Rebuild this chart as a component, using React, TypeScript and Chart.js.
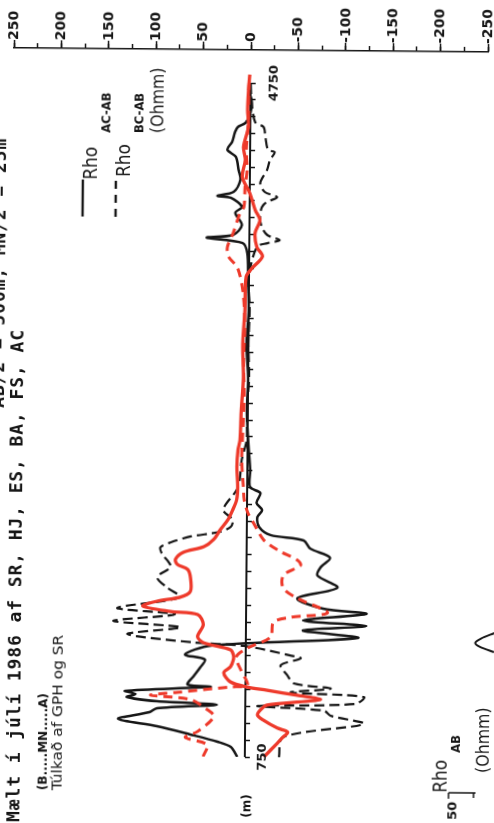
import React, { useEffect, useRef } from 'react';
import { Chart, registerables } from 'chart.js';

Chart.register(...registerables);

// ---- axis definitions ----
const DIST_MIN = 750;
const DIST_MAX = 4750;
const DIST_STEP = 100;
const RHO_MIN = -250;
const RHO_MAX = 250;
const RHO_LABEL_STEP = 50;
const RHO_MINOR_STEP = 25;

// ---- series: [distance (m), Rho (Ohmm)] ----
const rhoAcAb: [number, number][] = [
  [750, 8], [809, 15], [839, 29], [881, 58], [928, 93], [970, 134], [1011, 101], [1035, 93],
  [1059, 30], [1076, 93], [1100, 125], [1118, 116], [1136, 127], [1165, 37], [1177, 61],
  [1225, 55], [1278, 48], [1326, 43], [1355, 64], [1409, 37], [1462, -118], [1504, -60],
  [1533, -127], [1563, -60], [1605, -127], [1634, -81], [1694, -54], [1759, -96], [1830, -75],
  [1878, -78], [1937, -88], [1990, -67], [2038, -60], [2068, -25], [2115, -13], [2174, -11],
  [2216, -16], [2258, -10], [2317, -14], [2352, -3], [2453, -3], [2600, -1], [2800, 1],
  [3000, 0], [3200, 2], [3400, 0], [3600, 1], [3740, 2], [3800, 7], [3830, 45], [3848, 17],
  [3907, 8], [3979, 15], [4014, 8], [4068, 20], [4079, 34], [4103, 17], [4174, 10], [4234, 12],
  [4311, 15], [4353, 24], [4400, 19], [4459, 16], [4489, 13], [4513, 5], [4572, 0], [4649, -1],
  [4709, 2], [4750, 0],
];

const rhoBcAb: [number, number][] = [
  [750, -36], [869, -40], [952, -125], [999, -90], [1029, -83], [1053, -13], [1070, -116],
  [1112, -125], [1136, -48], [1160, -90], [1189, -51], [1237, -44], [1296, -37], [1338, -58],
  [1355, -47], [1409, 2], [1427, 55], [1474, 125], [1516, 69], [1551, 140], [1593, 75],
  [1628, 136], [1694, 70], [1753, 84], [1812, 94], [1872, 80], [1901, 82], [1949, 89],
  [1990, 91], [2020, 80], [2056, 59], [2085, 28], [2115, 17], [2157, 15], [2216, 25],
  [2335, 11], [2394, 8], [2513, 6], [2631, 1], [2800, 1], [3000, -1], [3200, 0], [3400, -1],
  [3600, 0], [3777, -8], [3800, -19], [3818, -32], [3848, -19], [3896, -13], [3955, -11],
  [4014, -13], [4044, -18], [4074, -29], [4103, -16], [4157, -11], [4234, -18], [4293, -21],
  [4341, -26], [4353, -19], [4430, -16], [4489, -14], [4519, -5], [4649, -1], [4750, 0],
];

const rhoRedSolid: [number, number][] = [
  [750, -20], [833, -34], [869, -40], [899, -45], [923, -34], [970, -19], [999, -13],
  [1029, -16], [1059, -23], [1094, -79], [1118, -55], [1147, -23], [1165, -2], [1195, 16],
  [1249, 23], [1284, 16], [1326, 13], [1355, 13], [1385, 16], [1427, 45], [1462, 51],
  [1533, 45], [1593, 51], [1610, 80], [1640, 109], [1670, 94], [1694, 70], [1729, 59],
  [1812, 59], [1860, 62], [1890, 73], [1919, 75], [1961, 67], [1996, 45], [2038, 35],
  [2097, 28], [2157, 20], [2216, 15], [2275, 11], [2352, 10], [2471, 11], [2572, 10],
  [2631, 8], [2800, 7], [3000, 5], [3200, 6], [3400, 4], [3600, 3], [3650, -3], [3721, -14],
  [3777, -8], [3860, -6], [3937, -11], [3996, -6], [4097, 0], [4192, 8], [4293, 5], [4370, 7],
  [4489, 2], [4590, 3], [4727, 2], [4800, 1],
];

const rhoRedDashed: [number, number][] = [
  [750, 44], [821, 40], [863, 63], [899, 50], [988, 33], [1029, 40], [1088, 58], [1112, 100],
  [1130, 72], [1165, 16], [1177, -2], [1266, 5], [1343, 10], [1397, -2], [1462, -26],
  [1551, -29], [1581, -47], [1610, -86], [1694, -54], [1753, -39], [1830, -39], [1890, -57],
  [1919, -54], [1979, -33], [2038, -18], [2139, -7], [2198, -1], [2275, 3], [2352, 4],
  [2513, 6], [2700, 5], [2900, 4], [3100, 5], [3300, 4], [3500, 6], [3650, 12], [3721, 22],
  [3777, 23], [3860, 17], [3979, 10], [4014, 6], [4133, 5], [4234, 3], [4353, 4], [4531, 2],
  [4709, 2], [4798, 1],
];

// profile axis (Rho = 0) and the edge of the neighbouring panel
const profileAxis: [number, number][] = [[DIST_MIN, 0], [DIST_MAX, 0]];
const nextPanelEdge: [number, number][] = [[1385, -262], [1415, -247], [1439, -242], [1465, -248], [1498, -262]];

// ---- layout constants ----
const CW = 510;
const CH = 840;
const AREA_LEFT = 14;
const AREA_RIGHT = 488;
const AREA_TOP = 50;
const AREA_BOTTOM = 757;
const PX_PER_M = 0.1685;
const Y_TOP = DIST_MIN + (AREA_BOTTOM - AREA_TOP) / PX_PER_M;

const RED = '#ee3a2b';
const BLACK = '#161616';

const distTicks: number[] = [];
for (let d = DIST_MIN; d <= DIST_MAX; d += DIST_STEP) distTicks.push(d);

const toXY = (arr: [number, number][]) => arr.map(([d, v]) => ({ x: v, y: d }));

const textPlugin = {
  id: 'rotatedTexts',
  afterDraw(chart: any) {
    const ctx = chart.ctx as CanvasRenderingContext2D;
    const xs = chart.scales.x;
    const ys = chart.scales.y;
    const ax = xs.getPixelForValue(0);

    const rot = (text: string, x: number, y: number, font: string, o: any = {}) => {
      ctx.save();
      ctx.translate(x, y);
      ctx.rotate(-Math.PI / 2);
      ctx.scale(o.sx ?? 1, 1);
      ctx.font = font;
      ctx.fillStyle = o.color ?? BLACK;
      ctx.textAlign = o.align ?? 'left';
      ctx.textBaseline = 'alphabetic';
      (ctx as any).letterSpacing = o.ls ?? '0px';
      ctx.fillText(text, 0, 0);
      ctx.restore();
    };
    const seg = (x1: number, y1: number, x2: number, y2: number, w: number, dash: number[] = []) => {
      ctx.save();
      ctx.strokeStyle = BLACK;
      ctx.lineWidth = w;
      ctx.setLineDash(dash);
      ctx.beginPath();
      ctx.moveTo(x1, y1);
      ctx.lineTo(x2, y2);
      ctx.stroke();
      ctx.restore();
    };

    const mono = '"DejaVu Sans Mono", monospace';
    const sans = '"DejaVu Sans", sans-serif';

    // header lines
    rot('AB/2 = 500m, MN/2 = 25m', 7, 140, `bold 18px ${mono}`, { align: 'right', ls: '0.9px' });
    rot('Mælt í júlí 1986 af SR, HJ, ES, BA, FS, AC', 26, 824, `bold 18px ${mono}`, { ls: '0.9px' });
    rot('(B.....MN.....A)', 53, 792, `bold 12px ${sans}`);
    rot('Túlkað af GPH og SR', 68, 792, `14px ${sans}`, { sx: 1.1 });

    // legend
    seg(84, 218, 84, 181, 2.4);
    rot('Rho', 98, 181, `20px ${sans}`, { sx: 0.85 });
    rot('AC-AB', 111, 134, `bold 13px ${sans}`, { sx: 0.89 });
    seg(117, 218, 117, 178, 2.4, [8, 6]);
    rot('Rho', 131, 178, `20px ${sans}`, { sx: 0.85 });
    rot('BC-AB', 144, 134, `bold 13px ${sans}`, { sx: 0.89 });
    rot('(Ohmm)', 164, 134, `18px ${sans}`, { sx: 0.88 });

    // distance axis labels
    rot('750', ax + 21, ys.getPixelForValue(DIST_MIN), `bold 13px ${sans}`, { align: 'center' });
    rot('4750', ax + 27, ys.getPixelForValue(DIST_MAX), `bold 13px ${sans}`, { align: 'center' });
    rot('(m)', ax + 6, 806, `bold 12px ${sans}`, { align: 'center' });

    // neighbouring panel (cut off)
    rot('Rho', 453, 791, `20px ${sans}`, { sx: 0.85 });
    rot('AB', 466, 751, `bold 13px ${sans}`, { sx: 0.89 });
    rot('(Ohmm)', 495, 771, `18px ${sans}`, { sx: 0.88 });
    rot('50', 463, 818, `bold 13px ${sans}`);
    seg(455, 791, 482, 791, 1.5);
    seg(455, 791, 455, 797, 1.5);
    seg(480, 791, 480, 796, 1.5);
  },
};

export default function App() {
  const ref = useRef<HTMLCanvasElement>(null);

  useEffect(() => {
    if (!ref.current) return;
    const line = (data: [number, number][], color: string, width: number, dash: number[] = [], tension = 0.3) => ({
      data: toXY(data),
      showLine: true,
      borderColor: color,
      backgroundColor: color,
      borderWidth: width,
      borderDash: dash,
      pointRadius: 0,
      tension,
      fill: false,
    });
    const chart = new Chart(ref.current, {
      type: 'scatter',
      data: {
        datasets: [
          { label: 'red solid', ...line(rhoRedSolid, RED, 3.3) },
          { label: 'red dashed', ...line(rhoRedDashed, RED, 3, [9, 6]) },
          { label: 'Rho AC-AB', ...line(rhoAcAb, BLACK, 2.5) },
          { label: 'Rho BC-AB', ...line(rhoBcAb, BLACK, 2.2, [10, 5]) },
          { label: 'axis', ...line(profileAxis, BLACK, 2, [], 0) },
          { label: 'next panel', ...line(nextPanelEdge, BLACK, 2), clip: false },
        ] as any,
      },
      options: {
        responsive: false,
        animation: false,
        events: [],
        layout: {
          padding: { left: AREA_LEFT, right: CW - AREA_RIGHT, top: 0, bottom: CH - AREA_BOTTOM },
        },
        plugins: { legend: { display: false }, tooltip: { enabled: false }, title: { display: false } },
        scales: {
          x: {
            type: 'linear',
            position: 'top',
            min: RHO_MIN,
            max: RHO_MAX,
            reverse: true,
            ticks: {
              stepSize: RHO_LABEL_STEP,
              autoSkip: false,
              minRotation: 90,
              maxRotation: 90,
              padding: 0,
              labelOffset: 17,
              color: BLACK,
              font: { family: '"DejaVu Sans", sans-serif', weight: 'bold', size: 14 },
              callback: (v: any) => String(v),
            },
            grid: { drawOnChartArea: false, drawTicks: true, tickLength: 8, tickWidth: 1.5, tickColor: BLACK },
            border: { display: true, color: BLACK, width: 1.5 },
            afterFit: (s: any) => {
              s.height = AREA_TOP;
              s.paddingLeft = 0;
              s.paddingRight = 0;
            },
          },
          x2: {
            type: 'linear',
            position: { y: Y_TOP },
            min: RHO_MIN,
            max: RHO_MAX,
            reverse: true,
            ticks: { display: false, stepSize: RHO_MINOR_STEP },
            grid: { drawOnChartArea: false, drawTicks: true, tickLength: -5, tickWidth: 1.5, tickColor: BLACK },
            border: { display: false },
          },
          y: {
            type: 'linear',
            position: { x: 0 },
            min: DIST_MIN,
            max: Y_TOP,
            afterBuildTicks: (s: any) => {
              s.ticks = distTicks.map((v) => ({ value: v }));
            },
            ticks: { display: false },
            grid: { drawOnChartArea: false, drawTicks: true, tickLength: -5, tickWidth: 1.5, tickColor: BLACK },
            border: { display: false },
          },
        },
      } as any,
      plugins: [textPlugin],
    });
    return () => chart.destroy();
  }, []);

  return (
    <div style={{ position: 'fixed', left: 0, top: 0, width: 494, height: 823, overflow: 'hidden', background: '#fff' }}>
      <div
        style={{
          position: 'absolute',
          left: 0,
          top: 0,
          width: CW,
          height: CH,
          transform: 'rotate(0.5deg)',
          transformOrigin: '251px 50px',
        }}
      >
        <canvas ref={ref} width={CW} height={CH} style={{ display: 'block' }} />
      </div>
    </div>
  );
}
